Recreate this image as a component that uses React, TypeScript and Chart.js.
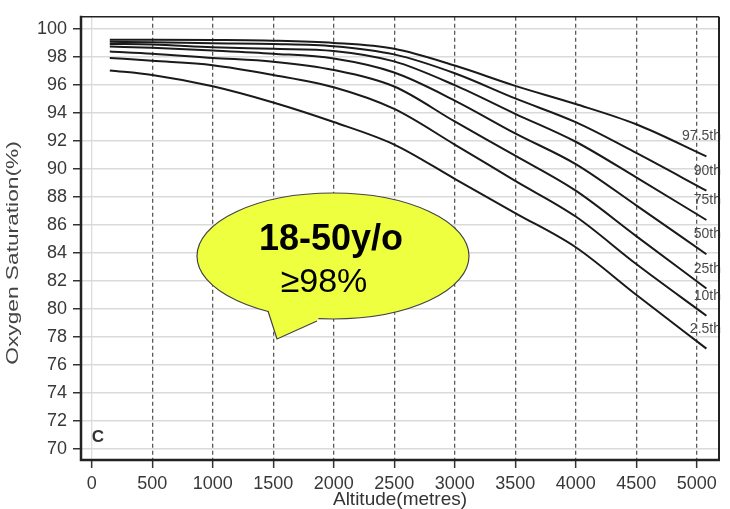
import { useEffect, useRef } from 'react';
import { Chart, registerables } from 'chart.js';

Chart.register(...registerables);

// ---- data ----
const altitudes = [150, 500, 1000, 1500, 2000, 2500, 3000, 3500, 4000, 4500, 5080];
const p975 = [99.25, 99.25, 99.23, 99.18, 99.02, 98.6, 97.4, 95.95, 94.65, 93.2, 90.9];
const p90 = [99.1, 99.07, 99.0, 98.95, 98.79, 98.2, 96.85, 95.05, 93.35, 91.15, 88.45];
const p75 = [98.95, 98.9, 98.72, 98.6, 98.45, 97.7, 96.0, 93.95, 91.95, 89.4, 86.35];
const p50 = [98.76, 98.67, 98.48, 98.25, 97.9, 96.9, 94.9, 92.55, 90.35, 87.4, 83.9];
const p25 = [98.4, 98.25, 97.95, 97.67, 97.08, 95.9, 93.4, 90.95, 88.45, 85.2, 81.45];
const p10 = [97.95, 97.74, 97.43, 96.73, 95.85, 94.3, 91.75, 89.15, 86.6, 83.2, 79.5];
const p025 = [97.05, 96.73, 95.92, 94.76, 93.36, 91.75, 89.3, 86.85, 84.4, 81.0, 77.15];

const seriesLabels = ['97.5th', '90th', '75th', '50th', '25th', '10th', '2.5th'];
const seriesValues = [p975, p90, p75, p50, p25, p10, p025];

const xTicks = [0, 500, 1000, 1500, 2000, 2500, 3000, 3500, 4000, 4500, 5000];
const yTicks = [70, 72, 74, 76, 78, 80, 82, 84, 86, 88, 90, 92, 94, 96, 98, 100];

const xTitle = 'Altitude(metres)';
const yTitle = 'Oxygen Saturation(%)';
const panelLetter = 'C';
const calloutTitle = '18-50y/o';
const calloutSub = '≥98%';

const FONT = "'Liberation Sans', Arial, sans-serif";

const overlayPlugin = {
  id: 'overlay',
  afterDraw(chart: any) {
    const ctx = chart.ctx as CanvasRenderingContext2D;
    const area = chart.chartArea;
    const xs = chart.scales.x;
    const ys = chart.scales.y;

    // percentile labels near line ends
    ctx.save();
    ctx.fillStyle = '#4a4a4a';
    ctx.font = `14px ${FONT}`;
    ctx.textAlign = 'right';
    ctx.textBaseline = 'alphabetic';
    seriesValues.forEach((vals, i) => {
      const yEnd = ys.getPixelForValue(vals[vals.length - 1]);
      ctx.fillText(seriesLabels[i], area.right + 2, yEnd - 16);
    });
    ctx.restore();

    // frame
    ctx.save();
    ctx.strokeStyle = '#222';
    ctx.lineWidth = 1.5;
    ctx.beginPath();
    ctx.moveTo(area.left, area.top);
    ctx.lineTo(area.right, area.top);
    ctx.stroke();
    ctx.lineWidth = 2;
    ctx.beginPath();
    ctx.moveTo(area.right, area.top);
    ctx.lineTo(area.right, area.bottom);
    ctx.stroke();
    ctx.lineWidth = 2.5;
    ctx.beginPath();
    ctx.moveTo(area.left, area.top - 1);
    ctx.lineTo(area.left, area.bottom);
    ctx.lineTo(area.right + 1, area.bottom);
    ctx.stroke();
    ctx.restore();

    // panel letter
    ctx.save();
    ctx.fillStyle = '#333';
    ctx.font = `bold 17px ${FONT}`;
    ctx.textAlign = 'left';
    ctx.textBaseline = 'alphabetic';
    ctx.fillText(panelLetter, xs.getPixelForValue(0), 442);
    ctx.restore();

    // axis titles
    ctx.save();
    ctx.fillStyle = '#333';
    ctx.font = `19px ${FONT}`;
    ctx.textAlign = 'center';
    ctx.textBaseline = 'alphabetic';
    ctx.fillText(xTitle, 400, 505);
    ctx.restore();

    ctx.save();
    ctx.fillStyle = '#444';
    ctx.font = `16px ${FONT}`;
    ctx.textAlign = 'center';
    ctx.textBaseline = 'middle';
    ctx.translate(14, 253);
    ctx.rotate(-Math.PI / 2);
    ctx.scale(1.42, 1);
    ctx.fillText(yTitle, 0, 0);
    ctx.restore();

    // callout bubble
    const cx = 333, cy = 256, rx = 136, ry = 63;
    ctx.save();
    ctx.fillStyle = '#EDFF3F';
    ctx.strokeStyle = '#444';
    ctx.lineWidth = 1.2;
    ctx.beginPath();
    ctx.ellipse(cx, cy, rx, ry, 0, 0, Math.PI * 2);
    ctx.fill();
    ctx.stroke();
    // tail
    ctx.beginPath();
    ctx.moveTo(264, 302);
    ctx.lineTo(268, 311);
    ctx.lineTo(277, 339);
    ctx.lineTo(317, 321);
    ctx.lineTo(322, 312);
    ctx.closePath();
    ctx.fill();
    ctx.beginPath();
    ctx.moveTo(268, 311);
    ctx.lineTo(277, 339);
    ctx.lineTo(317, 321);
    ctx.stroke();
    ctx.fillStyle = '#000';
    ctx.textAlign = 'center';
    ctx.textBaseline = 'alphabetic';
    ctx.font = `bold 36px ${FONT}`;
    ctx.fillText(calloutTitle, 331, 250);
    ctx.font = `34px ${FONT}`;
    ctx.fillText(calloutSub, 324, 292);
    ctx.restore();
  },
};

export default function App() {
  const ref = useRef<HTMLCanvasElement | null>(null);

  useEffect(() => {
    if (!ref.current) return;
    const chart = new Chart(ref.current, {
      type: 'line',
      data: {
        datasets: seriesValues.map((vals, i) => ({
          label: seriesLabels[i],
          data: altitudes.map((a, j) => ({ x: a, y: vals[j] })),
          borderColor: '#1a1a1a',
          borderWidth: 2,
          pointRadius: 0,
          fill: false,
          cubicInterpolationMode: 'monotone',
        })),
      },
      options: {
        animation: false,
        responsive: false,
        devicePixelRatio: 1,
        layout: { padding: { left: 0, top: 8, right: 11, bottom: 0 } },
        plugins: { legend: { display: false }, tooltip: { enabled: false } },
        scales: {
          x: {
            type: 'linear',
            min: -88,
            max: 5184,
            afterBuildTicks: (s: any) => {
              s.ticks = xTicks.map((v) => ({ value: v }));
            },
            afterFit: (s: any) => {
              s.height = 49;
            },
            grid: {
              color: (c: any) => (c.tick && c.tick.value === 0 ? '#dcdcdc' : '#5a5a5a'),
              lineWidth: 1.3,
              tickColor: '#333',
              tickLength: 8,
              tickWidth: 1.5,
            },
            border: {
              display: false,
              dash: (c: any) => (c.tick && c.tick.value === 0 ? [] : [4, 3]),
            },
            ticks: {
              font: { family: FONT, size: 18 },
              color: '#383838',
              padding: 5,
              maxRotation: 0,
              autoSkip: false,
              callback: (v: any) => String(v),
            },
          },
          y: {
            type: 'linear',
            min: 69.18,
            max: 100.89,
            afterBuildTicks: (s: any) => {
              s.ticks = yTicks.map((v) => ({ value: v }));
            },
            afterFit: (s: any) => {
              s.width = 81;
            },
            grid: {
              color: '#dadada',
              lineWidth: 1.5,
              tickColor: '#333',
              tickLength: 8,
              tickWidth: 1.5,
            },
            border: { display: false },
            ticks: {
              font: { family: FONT, size: 18 },
              color: '#383838',
              padding: 6,
              autoSkip: false,
              callback: (v: any) => String(v),
            },
          },
        },
      } as any,
      plugins: [overlayPlugin],
    });
    return () => chart.destroy();
  }, []);

  return (
    <div style={{ position: 'absolute', left: 0, top: 0, width: 730, height: 509, background: '#fff' }}>
      <canvas ref={ref} width={730} height={509} style={{ width: 730, height: 509, display: 'block' }} />
    </div>
  );
}
